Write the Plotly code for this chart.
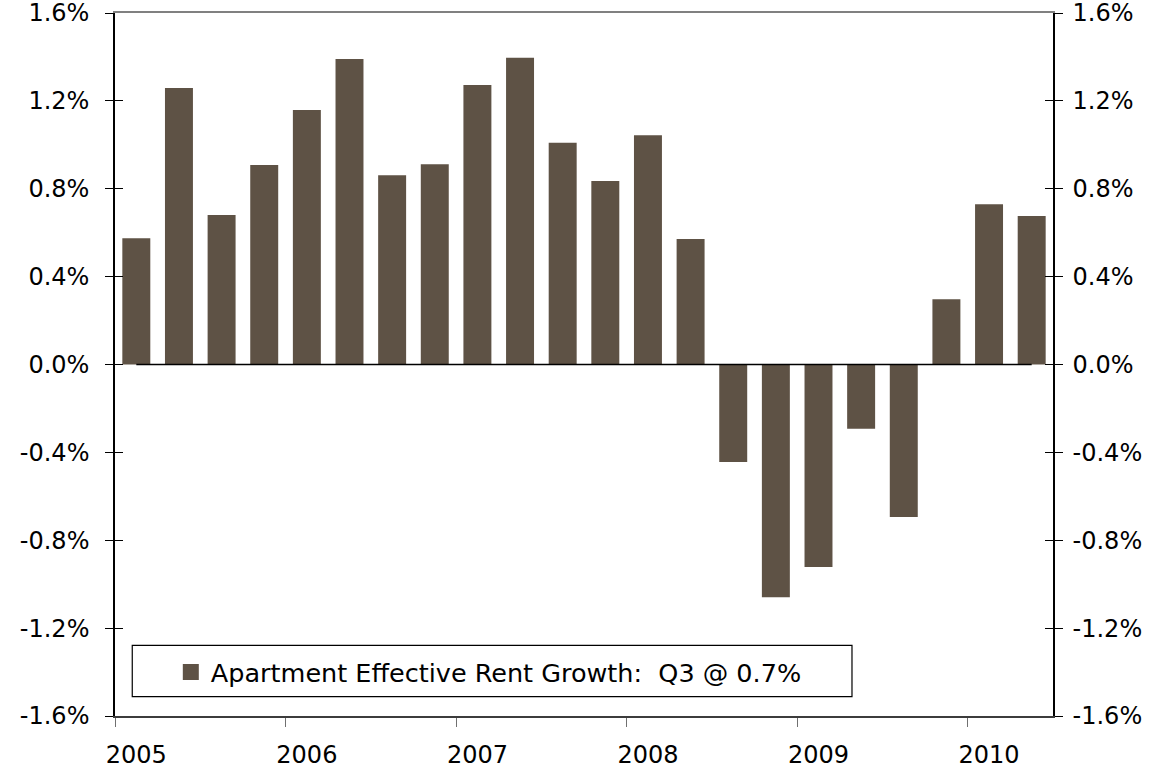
import plotly.graph_objects as go

# quarterly apartment effective rent growth, % q/q
quarters = ["2005Q1", "2005Q2", "2005Q3", "2005Q4",
            "2006Q1", "2006Q2", "2006Q3", "2006Q4",
            "2007Q1", "2007Q2", "2007Q3", "2007Q4",
            "2008Q1", "2008Q2", "2008Q3", "2008Q4",
            "2009Q1", "2009Q2", "2009Q3", "2009Q4",
            "2010Q1", "2010Q2"]
rent_growth = [0.575, 1.259, 0.680, 0.908,
               1.159, 1.391, 0.862, 0.912,
               1.272, 1.396, 1.009, 0.835,
               1.044, 0.571, -0.444, -1.059,
               -0.922, -0.293, -0.694, 0.297,
               0.730, 0.676]
years = [2005, 2006, 2007, 2008, 2009, 2010]
year_labels = ["2005", "2006", "2007", "2008", "2009", "2010"]
y_ticks = [-1.6, -1.2, -0.8, -0.4, 0.0, 0.4, 0.8, 1.2, 1.6]
y_labels = ["-1.6%", "-1.2%", "-0.8%", "-0.4%", "0.0%", "0.4%", "0.8%", "1.2%", "1.6%"]
legend_name = "Apartment Effective Rent Growth:  Q3 @ 0.7%"

BAR = '#5E5245'
FONT = 'DejaVu Sans'

# quarter -> decimal year at the middle of the quarter
x_pos = [int(q[:4]) + (int(q[-1]) - 1) / 4 + 0.125 for q in quarters]
q1_centers = [y + 0.125 for y in years]
x_range = [years[0], x_pos[-1] + 0.125]

fig = go.Figure()
fig.add_trace(go.Bar(
    x=x_pos, y=rent_growth,
    marker=dict(color=BAR, line=dict(width=0)),
    showlegend=False, hoverinfo='skip'
))
# zero line running from first to last bar
fig.add_trace(go.Scatter(
    x=x_pos, y=[0] * len(x_pos), mode='lines',
    line=dict(color='black', width=1.5),
    showlegend=False, hoverinfo='skip'
))
# legend swatch only
fig.add_trace(go.Scatter(
    x=[None], y=[None], mode='markers', name=legend_name,
    marker=dict(symbol='square', size=19, color=BAR)
))
# empty traces so the extra (frame / tick) axes get drawn
for xa, ya in [('x2', 'y2'), ('x', 'y3'), ('x', 'y4')]:
    fig.add_trace(go.Scatter(x=[None], y=[None], xaxis=xa, yaxis=ya,
                             showlegend=False, hoverinfo='skip'))

yax = dict(range=[-1.6, 1.6], tickvals=y_ticks, ticktext=y_labels, showgrid=False,
           zeroline=False, automargin=False, ticklabeloverflow='allow',
           tickfont=dict(family=FONT, size=24, color='black'))
inner = dict(range=[-1.6, 1.6], tickvals=y_ticks, overlaying='y', ticks='inside',
             ticklen=8, tickcolor='black', tickwidth=1.2, showticklabels=False,
             showgrid=False, zeroline=False, automargin=False)

fig.update_layout(
    width=1153, height=772,
    margin=dict(l=115, r=100, t=13, b=56),
    paper_bgcolor='white', plot_bgcolor='white',
    bargap=0.344,
    font=dict(family=FONT, color='black'),
    xaxis=dict(
        range=x_range, tickvals=q1_centers, ticktext=year_labels, ticks='',
        tickfont=dict(family=FONT, size=24, color='black'),
        showgrid=False, zeroline=False, automargin=False,
        showline=True, linecolor='#3c3c3c', linewidth=2,
        minor=dict(tickmode='array', tickvals=years, ticks='outside', ticklen=9,
                   tickcolor='#707070', tickwidth=1, showgrid=False),
        ticklabelstandoff=16
    ),
    xaxis2=dict(overlaying='x', side='top', range=x_range, showline=True,
                linecolor='#808080', linewidth=2, showticklabels=False, ticks='',
                showgrid=False, zeroline=False, automargin=False),
    yaxis=dict(**yax, side='left', showline=True, linecolor='black', linewidth=1.5,
               ticks='outside', ticklen=8, tickcolor='black', tickwidth=1.2,
               ticklabelstandoff=11),
    yaxis2=dict(**yax, overlaying='y', side='right', showline=True, linecolor='black',
                linewidth=1.5, ticks='outside', ticklen=8, tickcolor='black',
                tickwidth=1.2, ticklabelstandoff=5),
    yaxis3=dict(**inner, side='left'),
    yaxis4=dict(**inner, side='right'),
    legend=dict(x=0.0595, y=0.062, xanchor='left', yanchor='middle',
                bgcolor='rgba(0,0,0,0)', borderwidth=0,
                font=dict(family=FONT, size=25.5, color='black')),
    shapes=[dict(type='rect', xref='paper', yref='paper',
                 x0=0.0184, x1=0.7857, y0=0.0275, y1=0.1006,
                 line=dict(color='black', width=1.2), fillcolor='rgba(0,0,0,0)')]
)

# page body has a default 8px margin; drop it so the figure sits at the window origin
fig.write_html("out.html", config={'displayModeBar': False},
               post_script="document.body.style.margin='0px';")
